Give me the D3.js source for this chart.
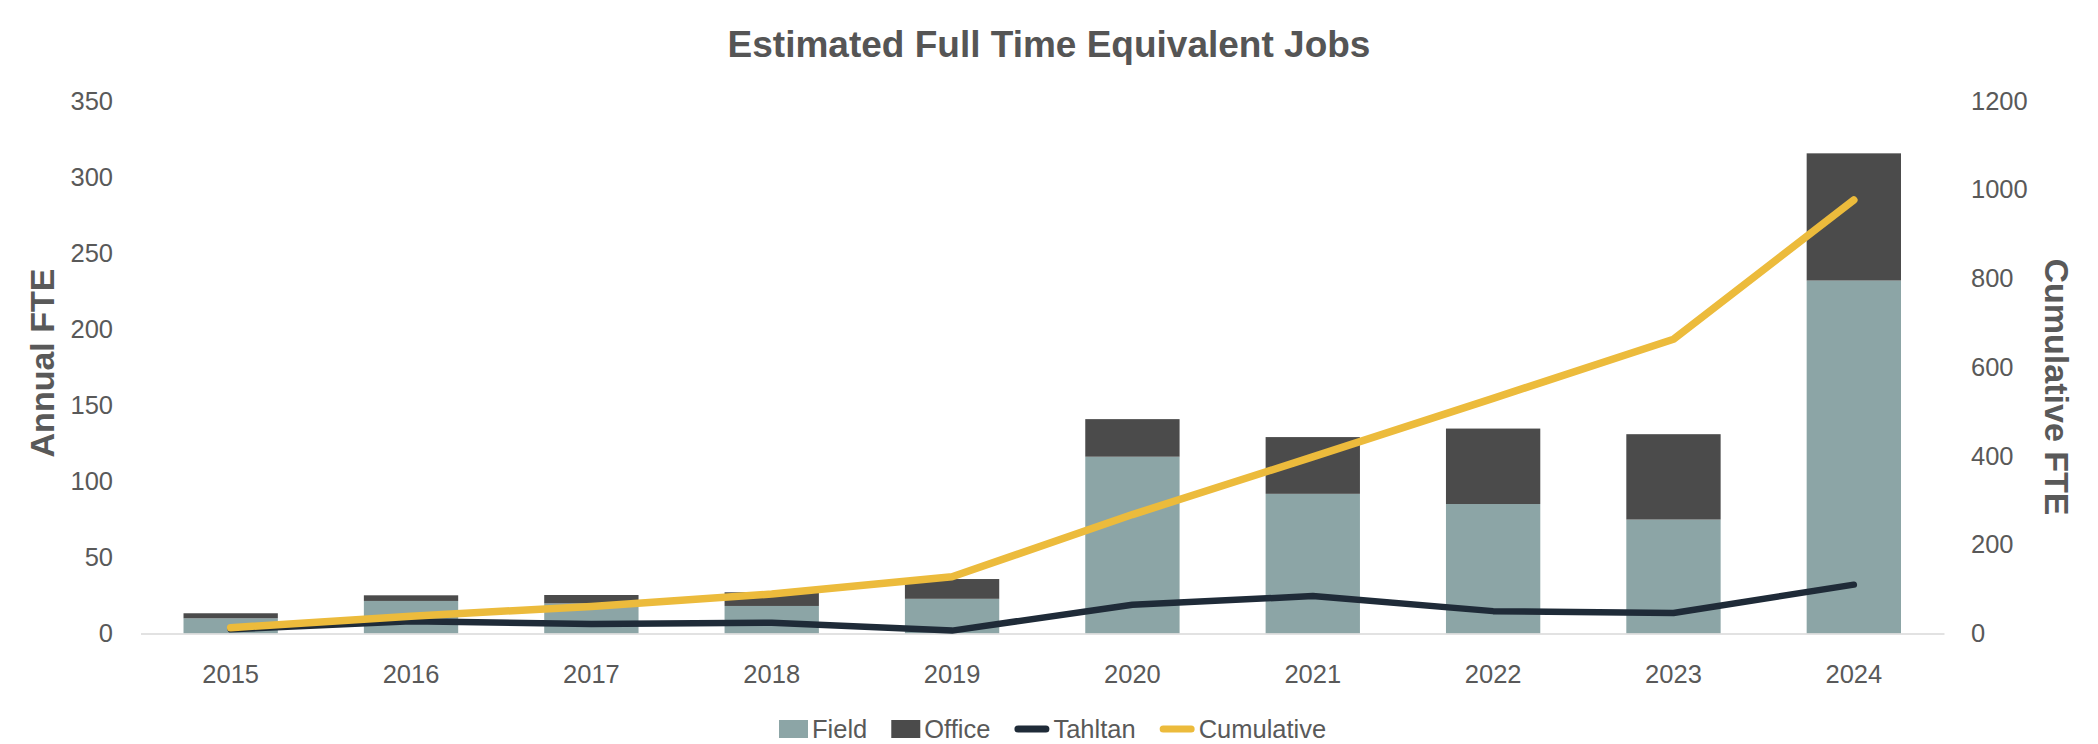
<!DOCTYPE html>
<html>
<head>
<meta charset="utf-8">
<script src="https://cdn.jsdelivr.net/npm/d3@7"></script>
<style>
  body { margin: 0; background: #ffffff; }
  .axis text { font-family: "Liberation Sans", Arial, sans-serif; font-size: 25.5px; fill: #595959; }
</style>
</head>
<body>
<div id="chart"></div>
<script>
const width = 2098;
const height = 744;

// values
const years = ["2015", "2016", "2017", "2018", "2019", "2020", "2021", "2022", "2023", "2024"];
const field = [10.0, 21.4, 19.8, 18.1, 22.8, 116.2, 91.8, 85.1, 74.9, 232.0];
const office = [3.3, 3.7, 5.5, 9.0, 13.0, 24.7, 37.3, 49.6, 56.1, 83.6];
const tahltan = [2.8, 8.0, 6.2, 7.1, 1.9, 18.9, 24.6, 14.7, 13.5, 32.1];
const cumulative = [13, 39, 61, 89, 128, 268, 398, 530, 663, 977];
const leftTicks = [0, 50, 100, 150, 200, 250, 300, 350];
const rightTicks = [0, 200, 400, 600, 800, 1000, 1200];

const colors = {
  field: "#8ca5a6",
  office: "#4b4b4b",
  tahltan: "#1f2b38",
  cumulative: "#ecbb3c",
  text: "#595959"
};

const rows = years.map((y, i) => ({ year: y, field: field[i], office: office[i] }));

const svg = d3.select("#chart")
  .append("svg")
  .attr("width", width)
  .attr("height", height)
  .style("background", "#ffffff");

const x = d3.scaleBand()
  .domain(years)
  .range([140.5, 1944])
  .paddingInner(0.477)
  .paddingOuter(0.2385);

const yLeft = d3.scaleLinear().domain([0, 350]).range([633.5, 101]);
const yRight = d3.scaleLinear().domain([0, 1200]).range([633.5, 101]);

// stacked bars, field at the bottom
const stacked = d3.stack().keys(["field", "office"])(rows);

svg.append("g")
  .selectAll("g")
  .data(stacked)
  .join("g")
  .attr("fill", d => colors[d.key])
  .selectAll("rect")
  .data(d => d)
  .join("rect")
  .attr("x", d => x(d.data.year))
  .attr("y", d => yLeft(d[1]))
  .attr("width", x.bandwidth())
  .attr("height", d => yLeft(d[0]) - yLeft(d[1]));

// axes
const xAxis = svg.append("g")
  .attr("class", "axis")
  .attr("transform", "translate(0,633.5)")
  .call(d3.axisBottom(x).tickSize(0).tickSizeOuter(0).tickPadding(31));
xAxis.select(".domain").attr("stroke", "#d9d9d9").attr("stroke-width", 1.5);

const leftAxis = svg.append("g")
  .attr("class", "axis")
  .attr("transform", "translate(140.5,0)")
  .call(d3.axisLeft(yLeft).tickValues(leftTicks).tickSize(0).tickPadding(27.5));
leftAxis.select(".domain").remove();

const rightAxis = svg.append("g")
  .attr("class", "axis")
  .attr("transform", "translate(1944,0)")
  .call(d3.axisRight(yRight).tickValues(rightTicks).tickFormat(d3.format("d")).tickSize(0).tickPadding(27));
rightAxis.select(".domain").remove();

// lines
const cx = d => x(d) + x.bandwidth() / 2;

const tahltanLine = d3.line()
  .x((d, i) => cx(years[i]))
  .y(d => yLeft(d));

const cumLine = d3.line()
  .x((d, i) => cx(years[i]))
  .y(d => yRight(d));

svg.append("path")
  .datum(tahltan)
  .attr("d", tahltanLine)
  .attr("fill", "none")
  .attr("stroke", colors.tahltan)
  .attr("stroke-width", 6.5)
  .attr("stroke-linecap", "round")
  .attr("stroke-linejoin", "round");

svg.append("path")
  .datum(cumulative)
  .attr("d", cumLine)
  .attr("fill", "none")
  .attr("stroke", colors.cumulative)
  .attr("stroke-width", 7.5)
  .attr("stroke-linecap", "round")
  .attr("stroke-linejoin", "round");

// title
svg.append("text")
  .attr("x", width / 2)
  .attr("y", 57)
  .attr("text-anchor", "middle")
  .style("font-family", "'Liberation Sans', Arial, sans-serif")
  .style("font-weight", "bold")
  .style("font-size", "37px")
  .style("fill", "#555555")
  .text("Estimated Full Time Equivalent Jobs");

// axis titles
svg.append("text")
  .attr("transform", "translate(53.5,363) rotate(-90)")
  .attr("text-anchor", "middle")
  .style("font-family", "'Liberation Sans', Arial, sans-serif")
  .style("font-weight", "bold")
  .style("font-size", "34px")
  .style("fill", colors.text)
  .text("Annual FTE");

svg.append("text")
  .attr("transform", "translate(2045,387) rotate(90)")
  .attr("text-anchor", "middle")
  .style("font-family", "'Liberation Sans', Arial, sans-serif")
  .style("font-weight", "bold")
  .style("font-size", "34px")
  .style("fill", colors.text)
  .text("Cumulative FTE");

// legend
const legendItems = [
  { label: "Field", type: "rect", color: colors.field },
  { label: "Office", type: "rect", color: colors.office },
  { label: "Tahltan", type: "line", color: colors.tahltan },
  { label: "Cumulative", type: "line", color: colors.cumulative }
];

const legend = svg.append("g").attr("transform", "translate(0,729)");
let lx = 779;

legendItems.forEach(item => {
  const row = legend.append("g").attr("transform", `translate(${lx},0)`);
  let markW;
  if (item.type === "rect") {
    markW = 29;
    row.append("rect")
      .attr("x", 0)
      .attr("y", -9)
      .attr("width", markW)
      .attr("height", 18)
      .attr("fill", item.color);
  } else {
    markW = 35;
    row.append("line")
      .attr("x1", 3.5)
      .attr("x2", markW - 3.5)
      .attr("y1", 0)
      .attr("y2", 0)
      .attr("stroke", item.color)
      .attr("stroke-width", 7)
      .attr("stroke-linecap", "round");
  }
  const t = row.append("text")
    .attr("x", markW + 4)
    .attr("y", 0)
    .attr("dy", "0.36em")
    .style("font-family", "'Liberation Sans', Arial, sans-serif")
    .style("font-size", "25.5px")
    .style("fill", colors.text)
    .text(item.label);
  lx += markW + 4 + t.node().getComputedTextLength() + 24;
});
</script>
</body>
</html>
